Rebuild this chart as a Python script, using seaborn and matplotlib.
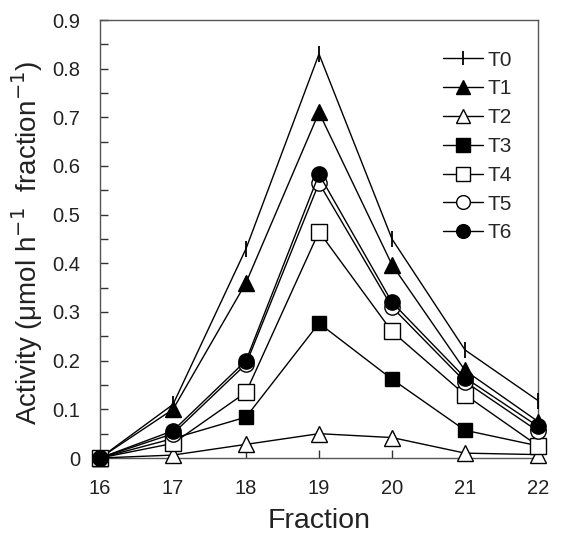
import matplotlib
matplotlib.use("Agg")
import matplotlib.pyplot as plt
import seaborn as sns
import pandas as pd
from matplotlib.ticker import MultipleLocator

sns.set_theme(style="white")
plt.rcParams["font.family"] = ["Liberation Sans", "DejaVu Sans"]
plt.rcParams["mathtext.fontset"] = "custom"
plt.rcParams["mathtext.rm"] = "Liberation Sans"
plt.rcParams["mathtext.it"] = "Liberation Sans"

fractions = [16, 17, 18, 19, 20, 21, 22]
T0 = [0.0, 0.11, 0.43, 0.83, 0.45, 0.222, 0.118]
T1 = [0.0, 0.10, 0.36, 0.71, 0.397, 0.18, 0.075]
T2 = [0.0, 0.006, 0.028, 0.05, 0.042, 0.01, 0.007]
T3 = [0.0, 0.04, 0.084, 0.277, 0.162, 0.057, 0.025]
T4 = [0.0, 0.03, 0.135, 0.465, 0.26, 0.13, 0.025]
T5 = [0.0, 0.05, 0.193, 0.565, 0.31, 0.157, 0.055]
T6 = [0.0, 0.056, 0.20, 0.583, 0.32, 0.165, 0.065]
series_names = ["T0", "T1", "T2", "T3", "T4", "T5", "T6"]
series_values = [T0, T1, T2, T3, T4, T5, T6]

rows = []
for name, vals in zip(series_names, series_values):
    for f, v in zip(fractions, vals):
        rows.append({"Fraction": f, "Activity": v, "Series": name})
df = pd.DataFrame(rows)

styles = {
    "T0": dict(marker="|", mfc="black", ms=11, mew=1.3),
    "T1": dict(marker="^", mfc="black", ms=11, mew=1.0),
    "T2": dict(marker="^", mfc="white", ms=11, mew=1.0),
    "T3": dict(marker="s", mfc="black", ms=10.5, mew=1.0),
    "T4": dict(marker="s", mfc="white", ms=11, mew=1.0),
    "T5": dict(marker="o", mfc="white", ms=11, mew=1.0),
    "T6": dict(marker="o", mfc="black", ms=11, mew=1.0),
}

fig = plt.figure(figsize=(5.62, 5.34), dpi=100)
ax = fig.add_axes([100 / 562, 1 - 458 / 534, 438 / 562, 438 / 534])

for name in series_names:
    sub = df[df["Series"] == name]
    st = styles[name]
    sns.lineplot(data=sub, x="Fraction", y="Activity", ax=ax, color="black",
                 linewidth=1.0, marker=st["marker"], markersize=st["ms"],
                 markerfacecolor=st["mfc"], markeredgecolor="black",
                 markeredgewidth=st["mew"], label=name, clip_on=False,
                 zorder=3)

ax.set_xlim(16, 22)
ax.set_ylim(0, 0.9)
ax.xaxis.set_major_locator(MultipleLocator(1))
ax.yaxis.set_major_locator(MultipleLocator(0.1))
ax.yaxis.set_minor_locator(MultipleLocator(0.05))
ax.yaxis.set_major_formatter(plt.FuncFormatter(lambda v, p: "0" if abs(v) < 1e-9 else f"{v:.1f}"))
ax.tick_params(axis="both", which="both", direction="in", colors="#333333",
               labelcolor="#222222", labelsize=14.5)
ax.tick_params(axis="both", which="major", length=6, width=1.0)
ax.tick_params(axis="x", which="major", bottom=True, pad=15)
ax.tick_params(axis="y", which="major", left=True, pad=14)
ax.tick_params(axis="y", which="minor", length=6, width=1.0, left=True)
for sp in ax.spines.values():
    sp.set_color("#555555")
    sp.set_linewidth(1.0)

ax.set_xlabel("Fraction", fontsize=20.5, color="#222222", labelpad=7)
ax.set_ylabel(r"Activity (μmol h$^{\mathsf{-1}}$  fraction$^{\mathsf{-1}}$)", fontsize=20,
              color="#222222")
ax.yaxis.set_label_coords(-0.125, 0.49)

leg = ax.legend(loc="upper left", bbox_to_anchor=(0.783, 0.93), frameon=False,
                fontsize=15, handlelength=1.92, handletextpad=0.2,
                labelspacing=0.47, borderaxespad=0.0, borderpad=0.0)
for h in leg.legend_handles:
    h.set_markersize(h.get_markersize() * 0.9)

fig.savefig("out.png", dpi=100, facecolor="white")
